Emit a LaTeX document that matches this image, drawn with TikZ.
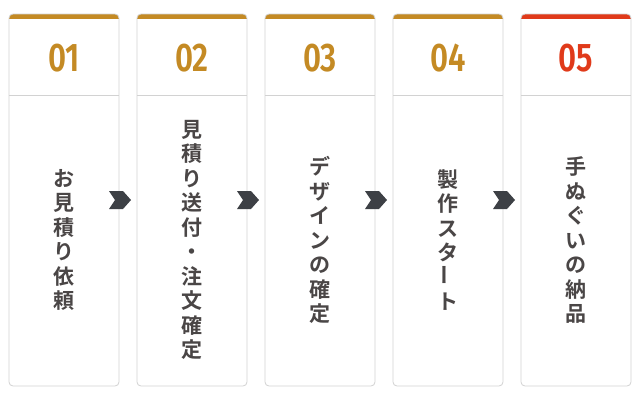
\documentclass[tikz,border=0pt]{standalone}
\usepackage{fontspec}
\newfontfamily\cjk{Noto Sans CJK JP Bold}
\newfontfamily\numf{Fira Sans}[UprightFont=* SemiBold]
\definecolor{gold}{HTML}{C48A24}
\definecolor{redc}{HTML}{E03A1A}
\definecolor{txt}{HTML}{4A4646}
\definecolor{arr}{HTML}{3D4045}
\definecolor{bord}{HTML}{D2D2D2}
\tikzset{
 card/.style={draw=bord,fill=white,rounded corners=4pt,line width=0.8pt},
 num/.style={font=\numf\fontsize{40}{40}\selectfont},
 vtext/.style={font=\cjk\fontsize{21}{24.5}\selectfont,text=txt,align=center,inner sep=0pt},
 chev/.style={fill=arr}
}
\begin{document}
\begin{tikzpicture}[x=1pt,y=-1pt]
\useasboundingbox (0,0) rectangle (640,400);
\foreach \i/\c in {0/gold,1/gold,2/gold,3/gold,4/redc}{
  \pgfmathsetmacro{\xl}{9+128*\i}
  \begin{scope}
  \clip[rounded corners=4pt] (\xl,14) rectangle ++(110,372);
  \fill[white] (\xl,14) rectangle ++(110,372);
  \fill[\c] (\xl,14) rectangle ++(110,4.5);
  \draw[bord,line width=0.8pt] (\xl,95) -- ++(110,0);
  \end{scope}
  \draw[bord,line width=0.8pt,rounded corners=4pt] (\xl,14) rectangle ++(110,372);
}
\node[num,text=gold] (n1) at (64,58) {\scalebox{0.78}[1]{01}};
\node[num,text=gold] (n2) at (192,58) {\scalebox{0.78}[1]{02}};
\node[num,text=gold] (n3) at (320,58) {\scalebox{0.78}[1]{03}};
\node[num,text=gold] (n4) at (448,58) {\scalebox{0.78}[1]{04}};
\node[num,text=redc] (n5) at (576,58) {\scalebox{0.78}[1]{05}};
\node[vtext] (t1) at (64,240) {お\\見\\積\\り\\依\\頼};
\node[vtext] (t2) at (192,240) {見\\積\\り\\送\\付\\・\\注\\文\\確\\定};
\node[vtext] (t3) at (320,240) {デ\\ザ\\イ\\ン\\の\\確\\定};
\node[vtext] (t4) at (448,240) {製\\作\\ス\\タ\\\rotatebox{90}{ー}\\ト};
\node[vtext] (t5) at (576,240) {手\\ぬ\\ぐ\\い\\の\\納\\品};
\foreach \i in {0,1,2,3}{
  \pgfmathsetmacro{\xa}{109+128*\i}
  \fill[arr] (\xa,191) -- ++(14,0) -- ++(8,9) -- ++(-8,9) -- ++(-14,0) -- ++(6,-9) -- cycle;
}
\end{tikzpicture}
\end{document}
